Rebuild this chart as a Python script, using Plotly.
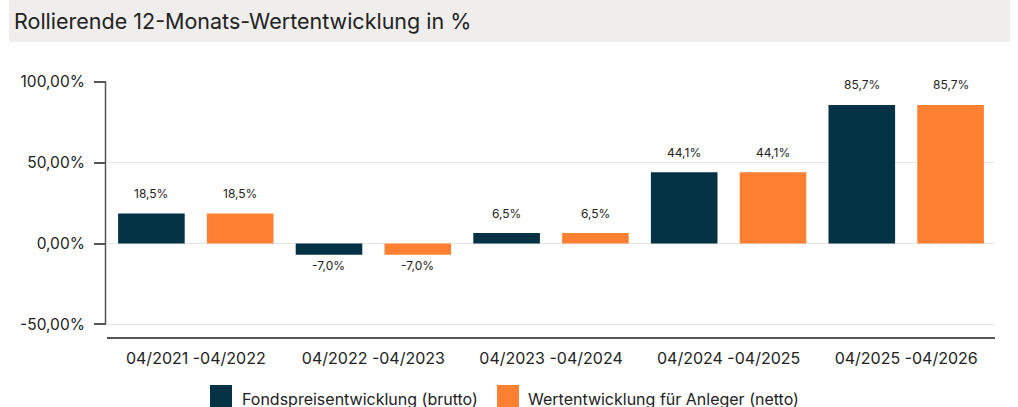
import plotly.graph_objects as go

# ---- data ----
categories = ["04/2021 -04/2022", "04/2022 -04/2023", "04/2023 -04/2024",
              "04/2024 -04/2025", "04/2025 -04/2026"]
brutto = [18.5, -7.0, 6.5, 44.1, 85.7]
netto = [18.5, -7.0, 6.5, 44.1, 85.7]
series_names = ["Fondspreisentwicklung (brutto)", "Wertentwicklung für Anleger (netto)"]
y_tickvals = [-50, 0, 50, 100]
y_ticktext = ["-50,00%", "0,00%", "50,00%", "100,00%"]
title_text = "Rollierende 12-Monats-Wertentwicklung in %"

# ---- style ----
FONT = "Inter, 'Open Sans', sans-serif"
DARK = "#033245"
ORANGE = "#FF8033"
TEXT = "#222222"
colors = [DARK, ORANGE]

W, H = 1018, 407
ML, MR, MT, MB = 107, 23, 81, 70
PW, PH = W - ML - MR, H - MT - MB


def px_x(px):
    return (px - ML) / PW


def px_y(py):
    return (H - MB - py) / PH


def fmt(v):
    return ("%.1f" % v).replace(".", ",") + "%"


fig = go.Figure()
for name, vals, col in zip(series_names, [brutto, netto], colors):
    fig.add_trace(go.Bar(x=categories, y=vals, name=name, marker=dict(color=col, line=dict(width=0)),
                         showlegend=False, hoverinfo="skip"))

annotations = []
for i, (vals, xs) in enumerate(zip([brutto, netto], [-44.5, 44.5])):
    for c, v in zip(categories, vals):
        annotations.append(dict(x=c, y=v, xref="x", yref="y", text=fmt(v), showarrow=False,
                                xshift=xs, yshift=20 if v >= 0 else -11, yanchor="middle",
                                font=dict(family=FONT, size=12, color=TEXT)))

shapes = []
# title background
shapes.append(dict(type="rect", xref="paper", yref="paper", x0=px_x(9), x1=px_x(1010),
                   y0=px_y(42), y1=px_y(0), fillcolor="#EFEEEC", line=dict(width=0), layer="below"))
# y axis line from -50 to 100
shapes.append(dict(type="line", xref="paper", yref="y", x0=px_x(105.5), x1=px_x(105.5),
                   y0=min(y_tickvals), y1=max(y_tickvals), line=dict(color="#555555", width=1.5)))

# manual legend
legend_pos = [(210, 240), (497, 526)]
for (sq, tx), name, col in zip(legend_pos, series_names, colors):
    shapes.append(dict(type="rect", xref="paper", yref="paper", x0=px_x(sq), x1=px_x(sq + 22),
                       y0=px_y(407), y1=px_y(385), fillcolor=col, line=dict(width=0)))
    annotations.append(dict(x=px_x(tx), y=px_y(399), xref="paper", yref="paper", text=name,
                            showarrow=False, xanchor="left", yanchor="middle",
                            font=dict(family=FONT, size=16, color=TEXT)))

annotations.append(dict(x=px_x(12), y=px_y(21), xref="paper", yref="paper", text=title_text,
                        showarrow=False, xanchor="left", yanchor="middle",
                        font=dict(family=FONT, size=21.5, color=TEXT)))

fig.update_layout(
    width=W, height=H,
    margin=dict(l=ML, r=MR, t=MT, b=MB, pad=0),
    paper_bgcolor="white", plot_bgcolor="white",
    barmode="group", bargap=0.0, bargroupgap=0.25,
    font=dict(family=FONT, size=16, color=TEXT),
    annotations=annotations, shapes=shapes,
    showlegend=False,
)
fig.update_xaxes(showline=True, linecolor="#555555", linewidth=1.5, ticks="",
                 showgrid=False, tickfont=dict(size=16, color=TEXT), ticklabelstandoff=6)
fig.update_yaxes(range=[-57.8, 100.5], tickvals=y_tickvals, ticktext=y_ticktext,
                 showgrid=True, gridcolor="#E6E6E6", gridwidth=1, zeroline=False,
                 showline=False, ticks="outside", ticklen=12, tickcolor="#555555", tickwidth=1.5,
                 tickfont=dict(size=15.5, color=TEXT), ticklabelstandoff=6)

fig.write_html("out.html", config={"displayModeBar": False},
               post_script="document.body.style.margin='0';")
